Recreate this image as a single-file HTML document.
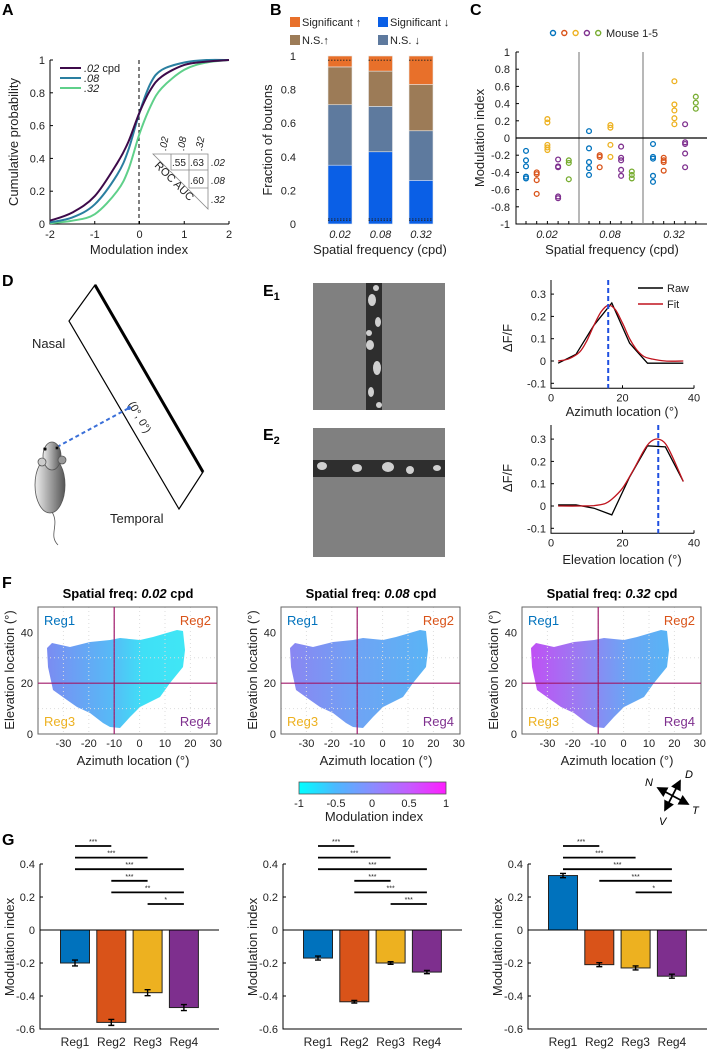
<!DOCTYPE html>
<html><head><meta charset="utf-8"><style>
body{margin:0;background:#fff;}
svg{display:block;font-family:"Liberation Sans",sans-serif;}
.t{font-size:11px;fill:#222}
.l{font-size:13px;fill:#222}
.p{font-size:16px;font-weight:bold;fill:#000}
</style></head><body>
<svg id="fig" width="710" height="1050" viewBox="0 0 710 1050" xmlns="http://www.w3.org/2000/svg">
<defs>
<linearGradient id="cbar" x1="0" x2="1" y1="0" y2="0"><stop offset="0" stop-color="#00ffff"/><stop offset="0.25" stop-color="#4cb8ff"/><stop offset="0.5" stop-color="#8a8cff"/><stop offset="0.75" stop-color="#c55cff"/><stop offset="1" stop-color="#ff1cff"/></linearGradient>
<linearGradient id="m1" x1="0" x2="1"><stop offset="0" stop-color="#7b8cf2"/><stop offset="0.45" stop-color="#58b8f6"/><stop offset="0.7" stop-color="#3fe0f6"/><stop offset="1" stop-color="#40e6f5"/></linearGradient>
<linearGradient id="m2" x1="0" x2="1"><stop offset="0" stop-color="#8a86f2"/><stop offset="0.5" stop-color="#6ea4f4"/><stop offset="1" stop-color="#5ab4f5"/></linearGradient>
<linearGradient id="m3" x1="0" x2="1"><stop offset="0" stop-color="#c050f4"/><stop offset="0.35" stop-color="#9a7cf2"/><stop offset="0.7" stop-color="#6aa6f4"/><stop offset="1" stop-color="#58b4f5"/></linearGradient>
<linearGradient id="mouseg" x1="0" x2="1"><stop offset="0" stop-color="#eee"/><stop offset="1" stop-color="#555"/></linearGradient>
<marker id="ah" markerWidth="6" markerHeight="6" refX="5" refY="3" orient="auto-start-reverse"><path d="M0,0L6,3L0,6z" fill="#000"/></marker>
</defs>

<text class="p" x="2" y="15">A</text>
<text class="p" x="270" y="15">B</text>
<text class="p" x="470" y="15">C</text>
<text class="p" x="2" y="286">D</text>
<text class="p" x="263" y="296">E<tspan font-size="11" dy="4">1</tspan></text>
<text class="p" x="263" y="440">E<tspan font-size="11" dy="4">2</tspan></text>
<text class="p" x="2" y="588">F</text>
<text class="p" x="2" y="845">G</text>

<g id="pa">
<text class="l" transform="translate(18,142) rotate(-90)" text-anchor="middle">Cumulative probability</text>
<text class="l" x="139" y="254" text-anchor="middle">Modulation index</text>
<line x1="139" y1="60" x2="139" y2="224" stroke="#000" stroke-dasharray="4,3" stroke-width="1"/>
<g>
<line x1="60" y1="68" x2="81" y2="68" stroke="#3d0a4a" stroke-width="2"/><text class="t" x="84" y="72"><tspan font-style="italic">.02</tspan> cpd</text>
<line x1="60" y1="78" x2="81" y2="78" stroke="#2a7fa0" stroke-width="2"/><text class="t" x="84" y="82" font-style="italic">.08</text>
<line x1="60" y1="88" x2="81" y2="88" stroke="#5fd08a" stroke-width="2"/><text class="t" x="84" y="92" font-style="italic">.32</text>
</g>
<g stroke="#888" stroke-width="0.8" fill="none">
<path d="M153,154L208,154L208,209Z"/><line x1="171" y1="154" x2="171" y2="170"/><line x1="189" y1="154" x2="189" y2="188"/><line x1="171" y1="170" x2="208" y2="170"/><line x1="189" y1="188" x2="208" y2="188"/>
</g>
<g class="t" font-size="10">
<text x="172" y="166" font-size="10">.55</text><text x="190" y="166" font-size="10">.63</text><text x="190" y="184" font-size="10">.60</text>
<text x="211" y="166" font-style="italic" font-size="10">.02</text><text x="211" y="184" font-style="italic" font-size="10">.08</text><text x="211" y="203" font-style="italic" font-size="10">.32</text>
<text transform="translate(166,151) rotate(-80)" font-style="italic" font-size="10">.02</text>
<text transform="translate(184,151) rotate(-80)" font-style="italic" font-size="10">.08</text>
<text transform="translate(202,151) rotate(-80)" font-style="italic" font-size="10">.32</text>
<text transform="translate(154,166) rotate(45)" font-size="11">ROC AUC</text>
</g>
</g>

<text class="l" transform="translate(272,140) rotate(-90)" text-anchor="middle">Fraction of boutons</text>
<text class="l" x="380" y="254" text-anchor="middle">Spatial frequency (cpd)</text>
<g>
<rect x="290" y="17" width="10" height="10" fill="#e8702a"/><text class="t" x="302" y="26">Significant ↑</text>
<rect x="378" y="17" width="10" height="10" fill="#0a5fe6"/><text class="t" x="390" y="26">Significant ↓</text>
<rect x="290" y="35" width="10" height="10" fill="#9c7b57"/><text class="t" x="302" y="44">N.S.↑</text>
<rect x="378" y="35" width="10" height="10" fill="#5e7a9e"/><text class="t" x="390" y="44">N.S. ↓</text>
</g>

<text class="l" transform="translate(484,138) rotate(-90)" text-anchor="middle">Modulation index</text>
<text class="l" x="612" y="254" text-anchor="middle">Spatial frequency (cpd)</text>
<text class="t" x="606" y="37">Mouse 1-5</text>

<g>
<polygon points="95,285 69,321 179,509 203,472" fill="#fff" stroke="#000" stroke-width="1.2"/>
<line x1="95" y1="285" x2="203" y2="472" stroke="#000" stroke-width="3"/>
<text class="t" x="128" y="404" transform="rotate(60,128,404)">(0°, 0°)</text>
<line x1="57" y1="447" x2="129" y2="408" stroke="#3a6fd8" stroke-width="2" stroke-dasharray="4,3"/>
<circle cx="129" cy="408" r="2" fill="#3a6fd8"/>
<text class="l" x="32" y="348">Nasal</text>
<text class="l" x="110" y="523">Temporal</text>
<g stroke="#555" stroke-width="0.8">
<path d="M52,512 C60,525 48,535 58,545" fill="none"/>
<ellipse cx="50" cy="485" rx="15" ry="28" fill="url(#mouseg)"/>
<ellipse cx="52" cy="456" rx="9" ry="14" fill="url(#mouseg)"/>
<circle cx="42" cy="462" r="4" fill="#ccc"/><circle cx="62" cy="460" r="4" fill="#999"/>
<circle cx="45" cy="449" r="1.5" fill="#000"/><circle cx="57" cy="448" r="1.5" fill="#000"/>
</g>
</g>

<g>
<rect x="313" y="283" width="132" height="127" fill="#808080"/>
<rect x="366" y="283" width="16" height="127" fill="#2e2e2e"/>
<ellipse cx="372" cy="300" rx="4" ry="6" fill="#cfcfcf"/><ellipse cx="378" cy="322" rx="3" ry="5" fill="#cfcfcf"/><ellipse cx="370" cy="345" rx="4" ry="5" fill="#cfcfcf"/><ellipse cx="377" cy="368" rx="4" ry="7" fill="#cfcfcf"/><ellipse cx="371" cy="392" rx="3" ry="5" fill="#cfcfcf"/>
<ellipse cx="376" cy="288" rx="3" ry="3" fill="#cfcfcf"/><ellipse cx="369" cy="333" rx="3" ry="3" fill="#cfcfcf"/><ellipse cx="379" cy="405" rx="3" ry="3" fill="#cfcfcf"/>
</g>
<g>
<rect x="313" y="428" width="132" height="129" fill="#808080"/>
<rect x="313" y="460" width="132" height="17" fill="#2e2e2e"/>
<ellipse cx="322" cy="466" rx="5" ry="4" fill="#cfcfcf"/><ellipse cx="357" cy="468" rx="5" ry="4" fill="#cfcfcf"/><ellipse cx="388" cy="467" rx="6" ry="5" fill="#cfcfcf"/><ellipse cx="410" cy="470" rx="4" ry="4" fill="#cfcfcf"/><ellipse cx="437" cy="468" rx="4" ry="3" fill="#cfcfcf"/>
</g>
<text class="l" transform="translate(512,338) rotate(-90)" text-anchor="middle">ΔF/F</text>
<text class="l" transform="translate(512,478) rotate(-90)" text-anchor="middle">ΔF/F</text>
<text class="l" x="622" y="416" text-anchor="middle">Azimuth location (°)</text>
<text class="l" x="622" y="564" text-anchor="middle">Elevation location (°)</text>
<g>
<line x1="638" y1="288" x2="663" y2="288" stroke="#000" stroke-width="1.5"/><text class="t" x="667" y="292">Raw</text>
<line x1="638" y1="304" x2="663" y2="304" stroke="#c0141e" stroke-width="1.5"/><text class="t" x="667" y="308">Fit</text>
</g>

<g>
<rect x="299" y="782" width="147" height="12" fill="url(#cbar)" stroke="#555" stroke-width="0.8"/>
<text class="t" x="299" y="807" text-anchor="middle">-1</text><text class="t" x="336" y="807" text-anchor="middle">-0.5</text><text class="t" x="372" y="807" text-anchor="middle">0</text><text class="t" x="409" y="807" text-anchor="middle">0.5</text><text class="t" x="446" y="807" text-anchor="middle">1</text>
<text class="l" x="374" y="821" text-anchor="middle">Modulation index</text>
</g>
<g stroke="#000" stroke-width="1.8">
<line x1="658" y1="788" x2="688" y2="804" marker-start="url(#ah)" marker-end="url(#ah)"/>
<line x1="680" y1="781" x2="665" y2="810" marker-start="url(#ah)" marker-end="url(#ah)"/>
<g stroke="none" font-size="11" font-style="italic"><text x="645" y="786">N</text><text x="685" y="778">D</text><text x="692" y="814">T</text><text x="659" y="825">V</text></g>
</g>
</svg>
<script>
const cdfX = [-2,-1.5,-1,-0.5,-0.25,0,0.25,0.5,1,1.5,2];
const cdf02 = [0.02,0.07,0.17,0.37,0.5,0.68,0.82,0.9,0.97,0.99,1];
const cdf08 = [0.01,0.04,0.12,0.3,0.45,0.68,0.86,0.94,0.985,1,1];
const cdf32 = [0.005,0.02,0.06,0.2,0.33,0.55,0.72,0.83,0.94,0.985,1];
const aXTicks = [-2,-1,0,1,2];
const aYTicks = [0,0.2,0.4,0.6,0.8,1];

const bCats = ['0.02','0.08','0.32'];
const bSigDown = [0.35,0.43,0.26];
const bNsDown = [0.36,0.27,0.295];
const bNsUp = [0.225,0.21,0.275];
const bSigUp = [0.065,0.09,0.17];
const bYTicks = [0,0.2,0.4,0.6,0.8,1];

const cCats = ['0.02','0.08','0.32'];
const cMouseColors = ['#0072bd','#d95319','#edb120','#7e2f8e','#77ac30'];
const cM1 = [[-0.15,-0.26,-0.33,-0.45,-0.47],[0.08,-0.12,-0.28,-0.35,-0.43],[-0.07,-0.22,-0.24,-0.44,-0.51]];
const cM2 = [[-0.40,-0.42,-0.49,-0.65],[-0.20,-0.22,-0.34],[-0.23,-0.26,-0.28,-0.38]];
const cM3 = [[0.22,0.18,-0.08,-0.11,-0.14],[0.15,0.12,-0.08,-0.22],[0.66,0.39,0.32,0.23,0.16]];
const cM4 = [[-0.25,-0.33,-0.34,-0.68,-0.70],[-0.10,-0.23,-0.26,-0.37,-0.44],[0.16,-0.05,-0.07,-0.18,-0.34]];
const cM5 = [[-0.26,-0.29,-0.48],[-0.39,-0.43,-0.47],[0.48,0.41,0.34]];
const cYTicks = [-1,-0.8,-0.6,-0.4,-0.2,0,0.2,0.4,0.6,0.8,1];

const e1RawX = [2,7,12,17,22,27,37];
const e1RawY = [-0.01,0.03,0.16,0.26,0.08,-0.01,-0.01];
const e1FitX = [2,5,8,10,12,14,16,18,20,22,24,26,28,32,37];
const e1FitY = [0,0.01,0.04,0.09,0.16,0.22,0.25,0.23,0.17,0.10,0.05,0.02,0.01,0,0];
const e1Peak = 16;
const e2RawX = [2,7,12,17,22,27,32,37];
const e2RawY = [0.005,0.005,-0.01,-0.04,0.13,0.27,0.265,0.11];
const e2FitX = [2,8,12,15,17,20,23,26,28,30,32,34,37];
const e2FitY = [0,0,0.002,0.01,0.03,0.08,0.16,0.25,0.29,0.30,0.28,0.22,0.11];
const e2Peak = 30;
const eXTicks = [0,20,40];
const eYTicks = [-0.1,0,0.1,0.2,0.3];

const fTitles = ['0.02','0.08','0.32'];
const fXTicks = [-30,-20,-10,0,10,20,30];
const fYTicks = [0,20,40];

const gCats = ['Reg1','Reg2','Reg3','Reg4'];
const gColors = ['#0072bd','#d95319','#edb120','#7e2f8e'];
const gVals1 = [-0.20,-0.56,-0.38,-0.47];
const gVals2 = [-0.17,-0.435,-0.20,-0.255];
const gVals3 = [0.33,-0.21,-0.23,-0.28];
const gErr1 = [0.018,0.018,0.018,0.018];
const gErr2 = [0.012,0.008,0.008,0.01];
const gErr3 = [0.013,0.012,0.012,0.012];
const gSig1 = [[0,1,'***'],[0,2,'***'],[0,3,'***'],[1,2,'***'],[1,3,'**'],[2,3,'*']];
const gSig2 = [[0,1,'***'],[0,2,'***'],[0,3,'***'],[1,2,'***'],[1,3,'***'],[2,3,'***']];
const gSig3 = [[0,1,'***'],[0,2,'***'],[0,3,'***'],[1,3,'***'],[2,3,'*']];
const gYTicks = [-0.6,-0.4,-0.2,0,0.2,0.4];

const NS='http://www.w3.org/2000/svg';
const svg=document.getElementById('fig');
function mk(tag,attrs,parent){const e=document.createElementNS(NS,tag);for(const k in attrs)e.setAttribute(k,attrs[k]);(parent||svg).appendChild(e);return e;}
function txt(x,y,s,anchor,parent,cls){const e=mk('text',{x:x,y:y,'text-anchor':anchor||'middle',class:cls||'t'},parent);e.textContent=s;return e;}
function pathD(xs,ys,fx,fy){return xs.map((x,i)=>(i?'L':'M')+fx(x).toFixed(1)+','+fy(ys[i]).toFixed(1)).join('');}
function smoothD(xs,ys,fx,fy){const p=xs.map((x,i)=>[fx(x),fy(ys[i])]);let d='M'+p[0][0]+','+p[0][1];
 for(let i=0;i<p.length-1;i++){const p0=p[Math.max(i-1,0)],p1=p[i],p2=p[i+1],p3=p[Math.min(i+2,p.length-1)];
 d+='C'+(p1[0]+(p2[0]-p0[0])/6).toFixed(1)+','+(p1[1]+(p2[1]-p0[1])/6).toFixed(1)+' '+(p2[0]-(p3[0]-p1[0])/6).toFixed(1)+','+(p2[1]-(p3[1]-p1[1])/6).toFixed(1)+' '+p2[0].toFixed(1)+','+p2[1].toFixed(1);}return d;}

const ax=x=>50+(x+2)*44.75, ay=y=>224-164*y;
let g=mk('g',{});


mk('path',{d:'M50,60L50,224L229,224',fill:'none',stroke:'#000','stroke-width':1},g);
aXTicks.forEach(v=>{mk('line',{x1:ax(v),y1:224,x2:ax(v),y2:221,stroke:'#000'},g);const t=txt(ax(v),238,String(v),'middle',g);});
aYTicks.forEach(v=>{mk('line',{x1:50,y1:ay(v),x2:53,y2:ay(v),stroke:'#000'},g);const t=txt(45,ay(v)+4,String(v),'end',g);});
[[cdf32,'#5fd08a','cdf-line-032'],[cdf08,'#2a7fa0','cdf-line-008'],[cdf02,'#3d0a4a','cdf-line-002']].forEach(s=>{
 const p=mk('path',{d:smoothD(cdfX,s[0],ax,ay),fill:'none',stroke:s[1],'stroke-width':2});
 
 
});

const by=v=>224-168*v; const bx=i=>340+i*40.5;
bYTicks.forEach(v=>{const t=txt(296,by(v)+4,String(v),'end');});
bCats.forEach((c,i)=>{
 const segs=[[bSigDown[i],'#0a5fe6','sig-down'],[bNsDown[i],'#5e7a9e','ns-down'],[bNsUp[i],'#9c7b57','ns-up'],[bSigUp[i],'#e8702a','sig-up']];
 let base=0;
 segs.forEach(s=>{const r=mk('rect',{x:bx(i)-12,y:by(base+s[0]),width:24,height:by(base)-by(base+s[0]),fill:s[1],stroke:'#e8e8e8','stroke-width':0.6});
  
  
  base+=s[0];});
 [0.975,0.02,0.03].forEach(v=>mk('line',{x1:bx(i)-12,x2:bx(i)+12,y1:by(v),y2:by(v),stroke:'#222','stroke-dasharray':'1.5,1.5','stroke-width':0.8}));
 const t=txt(bx(i),238,c,'middle');t.setAttribute('font-style','italic');
 
 
});

const cy=v=>138-86*v; const cg=[526,589,653];
mk('path',{d:'M516,52L516,224L707,224',fill:'none',stroke:'#000'});
mk('line',{x1:579,y1:52,x2:579,y2:224,stroke:'#888','stroke-width':1.2});
mk('line',{x1:643,y1:52,x2:643,y2:224,stroke:'#888','stroke-width':1.2});
mk('line',{x1:516,y1:cy(0),x2:707,y2:cy(0),stroke:'#000','stroke-width':1.2});
cYTicks.forEach(v=>{mk('line',{x1:516,y1:cy(v),x2:519,y2:cy(v),stroke:'#000'});const t=txt(510,cy(v)+4,String(v),'end');});
cCats.forEach((c,i)=>{const t=txt(cg[i]+21,238,c,'middle');t.setAttribute('font-style','italic');});
[cM1,cM2,cM3,cM4,cM5].forEach((m,mi)=>{
 const lc=mk('circle',{cx:553+mi*11.3,cy:33,r:2.5,fill:'none',stroke:cMouseColors[mi],'stroke-width':1.4});
 
 
 m.forEach((vals,gi)=>{const x=cg[gi]+mi*10.7;
  mk('line',{x1:x,y1:224,x2:x,y2:221,stroke:'#000'});
  vals.forEach(v=>{const p=mk('circle',{cx:x,cy:cy(v),r:2.4,fill:'none',stroke:cMouseColors[mi],'stroke-width':1.3});
   
   });
 });
});

function ePlot(top,y0,raw,rawY,fit,fitY,peak,name){
 const ex=x=>551+x*3.575, ey=v=>y0-223*v;
 const axb=ey(-0.1)+5;
 mk('path',{d:`M551,${top}L551,${axb}L694,${axb}`,fill:'none',stroke:'#000'});
 eXTicks.forEach(v=>{mk('line',{x1:ex(v),y1:axb,x2:ex(v),y2:axb-3,stroke:'#000'});const t=txt(ex(v),axb+13,String(v),'middle');});
 eYTicks.forEach(v=>{mk('line',{x1:551,y1:ey(v),x2:554,y2:ey(v),stroke:'#000'});const t=txt(546,ey(v)+4,String(v),'end');});
 const r=mk('path',{d:pathD(raw,rawY,ex,ey),fill:'none',stroke:'#000','stroke-width':1.3});
 
 
 const f=mk('path',{d:smoothD(fit,fitY,ex,ey),fill:'none',stroke:'#c0141e','stroke-width':1.3});
 
 
 const pk=mk('line',{x1:ex(peak),x2:ex(peak),y1:top,y2:axb,stroke:'#1f4fe0','stroke-width':2,'stroke-dasharray':'5,3'});
 
 
}
ePlot(280,361,e1RawX,e1RawY,e1FitX,e1FitY,e1Peak,'e1');
ePlot(425,506,e2RawX,e2RawY,e2FitX,e2FitY,e2Peak,'e2');

const fLefts=[38,281,522];
const blob=[[9,648],[14,643],[32,647],[52,642],[72,640],[82,638],[102,640],[115,637],[139,630],[145,631],[147,650],[145,667],[132,683],[122,697],[102,707],[92,717],[82,728],[72,727],[65,723],[52,713],[39,707],[29,700],[15,690],[10,667]];
fLefts.forEach((L,pi)=>{
 const mx=a=>L+(a+40)*2.54, my=e=>734-2.54*e;
 const gp=mk('g',{});
 
 
 const tt=mk('text',{x:L+90,y:598,'text-anchor':'middle','font-size':'13','font-weight':'bold',fill:'#000'},gp);
 tt.innerHTML='Spatial freq: <tspan font-style="italic">'+fTitles[pi]+'</tspan> cpd';
 
 
 const b=mk('path',{d:'M'+blob.map(p=>(L+p[0])+','+p[1]).join('L')+'Z',fill:'url(#m'+(pi+1)+')'},gp);
 
 
 for(let a=-30;a<=20;a+=10)mk('line',{x1:mx(a),x2:mx(a),y1:607,y2:734,stroke:'#ddd','stroke-dasharray':'1,3','stroke-width':1},gp);
 [10,30].forEach(e=>mk('line',{x1:L,x2:L+179,y1:my(e),y2:my(e),stroke:'#ddd','stroke-dasharray':'1,3'},gp));
 mk('rect',{x:L,y:607,width:179,height:127,fill:'none',stroke:'#666','stroke-width':1},gp);
 mk('line',{x1:mx(-10),x2:mx(-10),y1:607,y2:734,stroke:'#a0186a','stroke-width':1.2},gp);
 mk('line',{x1:L,x2:L+179,y1:my(20),y2:my(20),stroke:'#a0186a','stroke-width':1.2},gp);
 fXTicks.forEach(v=>{const t=txt(mx(v),747,String(v),'middle',gp);});
 fYTicks.forEach(v=>{const t=txt(L-5,my(v)+4,String(v),'end',gp);});
 const xl=txt(L+95,765,'Azimuth location (°)','middle',gp,'l');
 
 
 const yl=mk('text',{class:'l','text-anchor':'middle',transform:`translate(${L-24},670) rotate(-90)`},gp);yl.textContent='Elevation location (°)';
 
 
 [['Reg1',L+6,625,'start',gColors[0]],['Reg2',L+173,625,'end',gColors[1]],['Reg3',L+6,726,'start',gColors[2]],['Reg4',L+173,726,'end',gColors[3]]].forEach(r=>{
  const t=mk('text',{x:r[1],y:r[2],'text-anchor':r[3],style:'fill:'+r[4]+';font-size:13px'},gp);t.textContent=r[0];
  
  });
});

const gy=v=>930-165*v;
const gL=[40,283,528];
[[gVals1,gErr1,gSig1],[gVals2,gErr2,gSig2],[gVals3,gErr3,gSig3]].forEach((set,pi)=>{
 const L=gL[pi]; const gx=i=>L+35+i*36.3;
 mk('path',{d:`M${L},${gy(0.4)}L${L},${gy(-0.6)}L${L+179},${gy(-0.6)}`,fill:'none',stroke:'#000'});
 gYTicks.forEach(v=>{mk('line',{x1:L,y1:gy(v),x2:L+3,y2:gy(v),stroke:'#000'});const t=txt(L-5,gy(v)+4,String(v),'end');});
 const yl=mk('text',{class:'l','text-anchor':'middle',transform:`translate(${L-26},947) rotate(-90)`});yl.textContent='Modulation index';
 
 
 gCats.forEach((c,i)=>{
  const v=set[0][i];
  const r=mk('rect',{x:gx(i)-14.5,y:Math.min(gy(0),gy(v)),width:29,height:Math.abs(gy(v)-gy(0)),fill:gColors[i],stroke:'#222','stroke-width':1});
  
  
  const e=set[1][i];
  const eb=mk('path',{d:`M${gx(i)},${gy(v+e)}L${gx(i)},${gy(v-e)}M${gx(i)-3},${gy(v+e)}L${gx(i)+3},${gy(v+e)}M${gx(i)-3},${gy(v-e)}L${gx(i)+3},${gy(v-e)}`,stroke:'#000','stroke-width':1.4,fill:'none'});
  
  
  const t=txt(gx(i),1046,c,'middle');t.setAttribute('style','font-size:12px');
  
  
 });
 mk('line',{x1:L,x2:L+179,y1:gy(0),y2:gy(0),stroke:'#000'});
 set[2].forEach((s,k)=>{const y=846+k*11.6;
  const ln=mk('line',{x1:gx(s[0]),x2:gx(s[1]),y1:y,y2:y,stroke:'#000','stroke-width':1.8});
  
  
  const t=txt((gx(s[0])+gx(s[1]))/2,y-2,s[2],'middle');t.setAttribute('style','font-size:7px');
  
  });
});
</script>
</body></html>
